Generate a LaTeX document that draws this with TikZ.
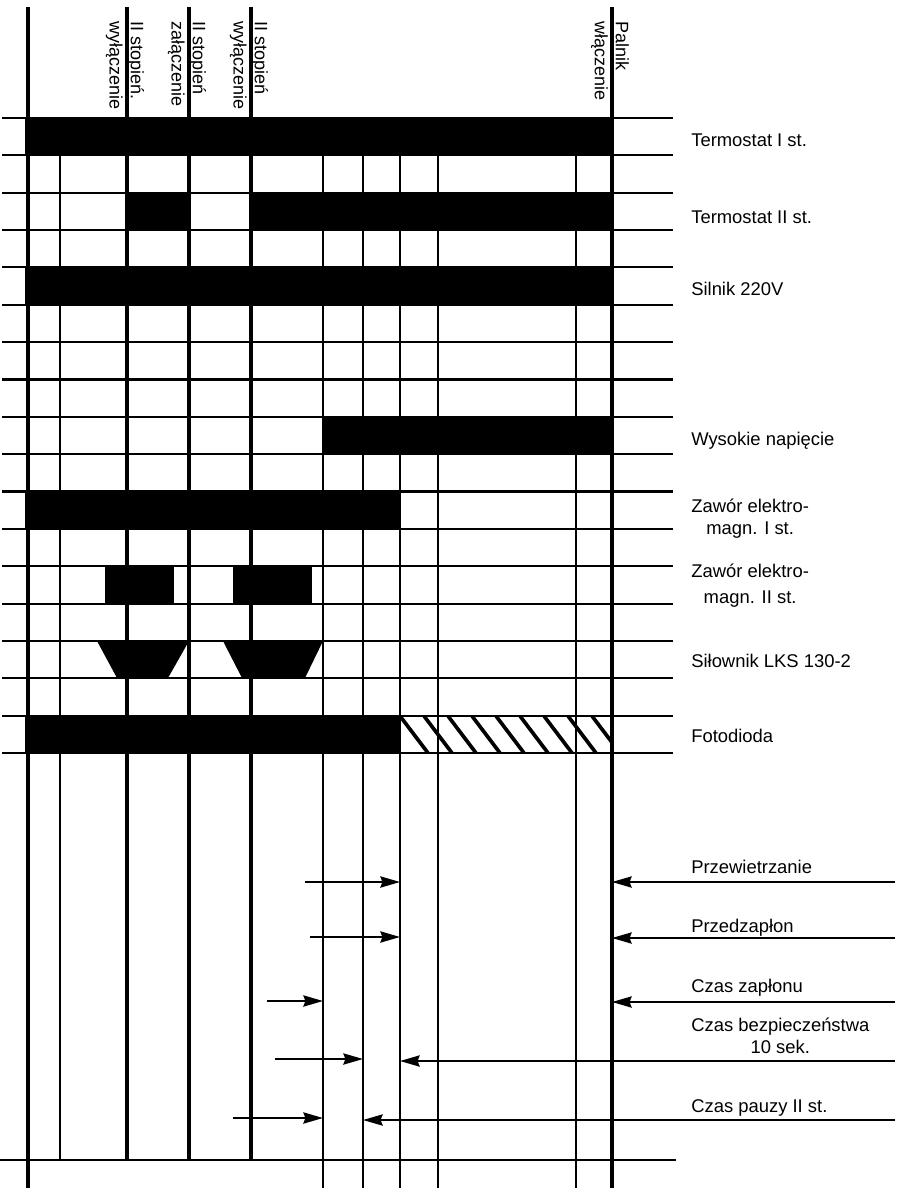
\documentclass[tikz,border=0pt]{standalone}
\usepackage{fontspec}
\setmainfont{Liberation Sans}
\usetikzlibrary{arrows.meta}

\begin{document}
\begin{tikzpicture}[
    x=0.25mm, y=-0.25mm,
    grid/.style={line width=1.5pt},
    tline/.style={line width=1.4pt},
    mline/.style={line width=2.4pt},
    arr/.style={-{Stealth[length=14pt, width=8pt, inset=1.5pt]}, line width=1.3pt},
    hatch/.style={line width=2.6pt},
    font=\fontsize{13.1}{15}\selectfont,
    lbl/.style={anchor=base west, inner sep=0pt, align=center},
    vlbl/.style={rotate=-90, anchor=west, inner sep=0pt, align=left, font=\fontsize{12.8}{15}\selectfont}
]
\useasboundingbox (0,0) rectangle (904,1188);

% ---- Rows of the chart ----
\foreach \k in {0,...,17}
    \draw[grid] (2,{118+\k*37.35}) -- (673,{118+\k*37.35});

% ---- Time marks (vertical lines) ----
\foreach \x/\yb in {60/1160, 323/1188, 363/1188, 400/1188, 438/1188, 576/1188}
    \draw[tline] (\x,155) -- (\x,\yb);
\foreach \x/\yb in {28/1188, 127/1160, 189/1160, 251/1160, 612/1188}
    \draw[mline] (\x,7) -- (\x,\yb);
\draw[grid] (0,1160) -- (676,1160);

\foreach \x in {323,363,400,612}
    \coordinate (t\x) at (\x,0);

% ---- Bars ----
\fill (25,118) rectangle (613,155);     % Termostat I st.
\fill (127,193) rectangle (189,230);    % Termostat II st.
\fill (251,193) rectangle (613,230);
\fill (25,267) rectangle (613,305);     % Silnik
\fill (323,417) rectangle (613,454);    % Wysokie napiecie
\fill (25,491) rectangle (400,529);     % Zawor I st.
\fill (105,566) rectangle (174,603);    % Zawor II st.
\fill (233,566) rectangle (312,603);
\fill (97,641) -- (189,641) -- (168,678) -- (117,678) -- cycle;   % Silownik
\fill (223,641) -- (323,641) -- (305,678) -- (242,678) -- cycle;
\fill (25,716) rectangle (400,753);     % Fotodioda

\begin{scope}
    \clip (400,716) rectangle (612,753);
    \foreach \h in {0,...,8}
        \draw[hatch] ({400+\h*24},716) -- ++(28,37);
\end{scope}

% ---- Switching points ----
\node[vlbl] (wylI)  at (125,21) {II stopień.\\wyłączenie};
\node[vlbl] (zalII) at (187,21) {II stopień\\załączenie};
\node[vlbl] (wylII) at (249,21) {II stopień\\wyłączenie};
\node[vlbl] (paln)  at (610,21) {Palnik\\włączenie};

% ---- Signal names ----
\node[lbl] (termI)  at (691,147) {Termostat I st.};
\node[lbl] (termII) at (691,223) {Termostat II st.};
\node[lbl] (silnik) at (691,295) {Silnik 220V};
\node[lbl] (wysnap) at (691,445) {Wysokie napięcie};
\node[lbl] (zawI)   at (691,534) {Zawór elektro-\\magn. I st.};
\node[lbl] (zawII)  at (691,603) {Zawór elektro-\\[2.8pt]magn. II st.};
\node[lbl] (silow)  at (691,667) {Siłownik LKS 130-2};
\node[lbl] (foto)   at (691,742) {Fotodioda};

% ---- Time intervals ----
\node[lbl] (przew)  at (691,873) {Przewietrzanie};
\node[lbl] (przed)  at (691,932) {Przedzapłon};
\node[lbl] (czzap)  at (691,992) {Czas zapłonu};
\node[lbl] (czbez)  at (691,1053) {Czas bezpieczeństwa\\10 sek.};
\node[lbl] (czpau)  at (691,1112) {Czas pauzy II st.};

\coordinate (a1) at (305,882);  \coordinate (b1) at (895,882);
\coordinate (a2) at (310,937);  \coordinate (b2) at (895,938);
\coordinate (a3) at (267,1001); \coordinate (b3) at (895,1002);
\coordinate (a4) at (275,1059); \coordinate (b4) at (895,1061);
\coordinate (a5) at (233,1118); \coordinate (b5) at (895,1120);

\draw[arr] (a1) -- (a1 -| t400);
\draw[arr] (b1) -- (b1 -| t612);
\draw[arr] (a2) -- (a2 -| t400);
\draw[arr] (b2) -- (b2 -| t612);
\draw[arr] (a3) -- (a3 -| t323);
\draw[arr] (b3) -- (b3 -| t612);
\draw[arr] (a4) -- (a4 -| t363);
\draw[arr] (b4) -- (b4 -| t400);
\draw[arr] (a5) -- (a5 -| t323);
\draw[arr] (b5) -- (b5 -| t363);

\end{tikzpicture}
\end{document}
